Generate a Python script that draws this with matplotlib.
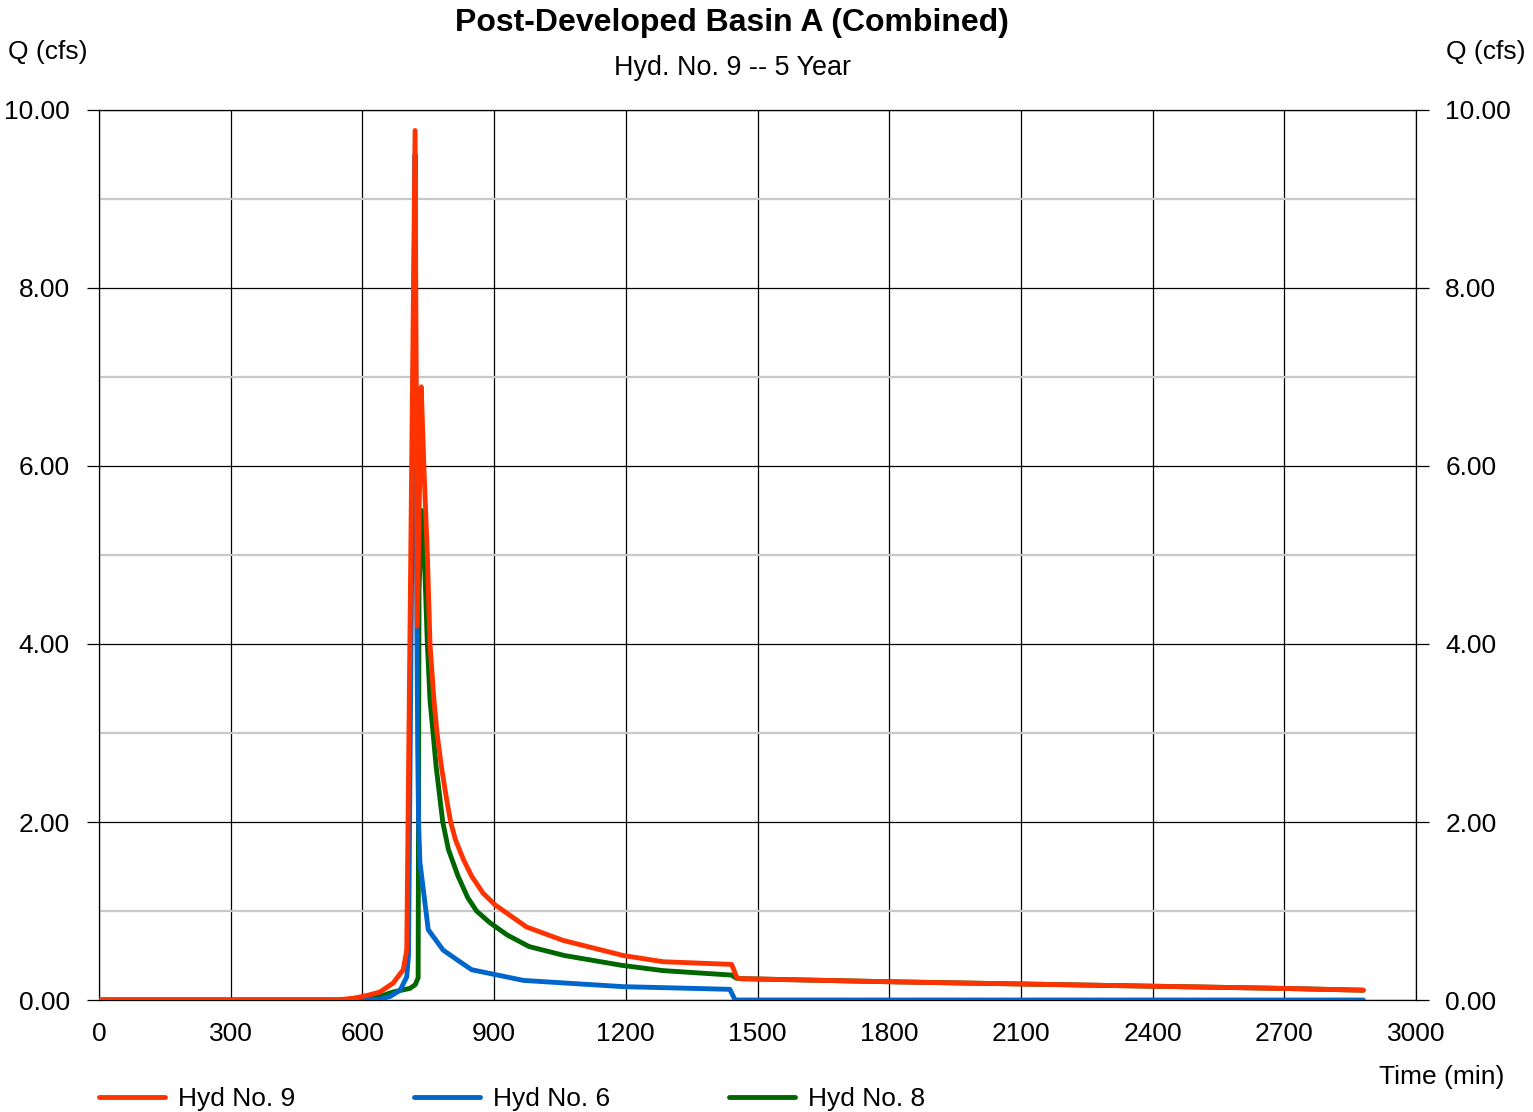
import matplotlib
matplotlib.use("Agg")
import matplotlib.pyplot as plt
from matplotlib.ticker import MultipleLocator, FormatStrFormatter

plt.rcParams['font.family'] = ['Liberation Sans', 'DejaVu Sans']

# ---- data ----
t9 = [0, 540, 580, 610, 640, 670, 693, 701, 720, 725, 734, 740, 748, 754, 763, 770, 780,
      792, 801, 812, 830, 849, 875, 902, 974, 1057, 1194, 1285, 1441, 1446, 1452, 1460,
      1800, 2100, 2400, 2700, 2880]
q9 = [0, 0, 0.02, 0.05, 0.09, 0.19, 0.34, 0.56, 9.77, 4.2, 6.89, 6.0, 5.0, 4.0, 3.37, 3.0, 2.62,
      2.25, 2.0, 1.8, 1.58, 1.39, 1.2, 1.07, 0.82, 0.67, 0.5, 0.43, 0.40, 0.34, 0.26, 0.24,
      0.205, 0.18, 0.155, 0.13, 0.11]

t6 = [0, 600, 640, 663, 686, 701, 705, 720, 722, 724, 726, 728, 731, 750, 784, 822, 849,
      967, 1194, 1437, 1449, 2880]
q6 = [0, 0, 0.01, 0.04, 0.11, 0.26, 0.5, 9.5, 6.5, 4.3, 2.8, 2.0, 1.55, 0.79, 0.56, 0.43, 0.34,
      0.22, 0.15, 0.12, 0.0, 0.0]

t8 = [0, 600, 640, 670, 708, 720, 727, 729, 735, 741, 748, 754, 761, 768, 777, 783, 796,
      818, 840, 860, 890, 930, 980, 1060, 1190, 1285, 1441, 1452, 1460,
      1800, 2100, 2400, 2700, 2880]
q8 = [0, 0, 0.04, 0.09, 0.13, 0.17, 0.25, 4.6, 5.5, 5.0, 4.0, 3.37, 3.0, 2.62, 2.25, 2.0, 1.69,
      1.39, 1.15, 1.0, 0.87, 0.73, 0.6, 0.5, 0.39, 0.33, 0.28, 0.245, 0.24,
      0.205, 0.18, 0.155, 0.13, 0.11]

series_labels = ["Hyd No. 9", "Hyd No. 6", "Hyd No. 8"]
colors = ["#ff3300", "#0066cc", "#006600"]
x_ticks = list(range(0, 3001, 300))

W, H = 1533, 1112
fig = plt.figure(figsize=(W / 100, H / 100), dpi=100)
ax = fig.add_axes([99 / W, 1 - 1000 / H, (1416 - 99) / W, (1000 - 110) / H])

ax.set_xlim(0, 3000)
ax.set_ylim(0, 10)

# grid
ax.yaxis.set_major_locator(MultipleLocator(2))
ax.yaxis.set_minor_locator(MultipleLocator(1))
ax.set_xticks(x_ticks)
ax.grid(which='major', axis='both', color='black', linewidth=0.9, zorder=1)
ax.grid(which='minor', axis='y', color='#c8c8c8', linewidth=1.6, zorder=0.5)
for s in ax.spines.values():
    s.set_color('black')
    s.set_linewidth(0.9)

lw = 3.5
l8, = ax.plot(t8, q8, color=colors[2], lw=lw, zorder=3, solid_capstyle='round', solid_joinstyle='round')
l6, = ax.plot(t6, q6, color=colors[1], lw=lw, zorder=4, solid_capstyle='round', solid_joinstyle='round')
l9, = ax.plot(t9, q9, color=colors[0], lw=lw, zorder=5, solid_capstyle='round', solid_joinstyle='round')

ax.yaxis.set_major_formatter(FormatStrFormatter('%.2f'))
ax.tick_params(axis='y', which='major', length=9, width=0.9, direction='out',
               labelsize=19, pad=12, left=True, right=True, labelleft=True, labelright=True)
ax.tick_params(axis='y', which='minor', length=0)
ax.tick_params(axis='x', length=0, labelsize=19, pad=15.5)

fig.text(732 / W, 1 - 23 / H, "Post-Developed Basin A (Combined)", ha='center', va='center',
         fontsize=23, fontweight='bold')
fig.text(732 / W, 1 - 68 / H, "Hyd. No. 9 -- 5 Year", ha='center', va='center', fontsize=19.4)
fig.text(8 / W, 1 - 52 / H, "Q (cfs)", ha='left', va='center', fontsize=19)
fig.text(1525 / W, 1 - 52 / H, "Q (cfs)", ha='right', va='center', fontsize=19)
fig.text(1504 / W, 1 - 1077 / H, "Time (min)", ha='right', va='center', fontsize=19)

fig.legend([l9, l6, l8], series_labels, loc='center left',
           bbox_to_anchor=(99 / W, 1 - 1099 / H), ncol=3, frameon=False, fontsize=19,
           handlelength=2.5, handletextpad=0.49, columnspacing=4.5, borderpad=0,
           borderaxespad=0)

fig.savefig("out.png", dpi=100)
